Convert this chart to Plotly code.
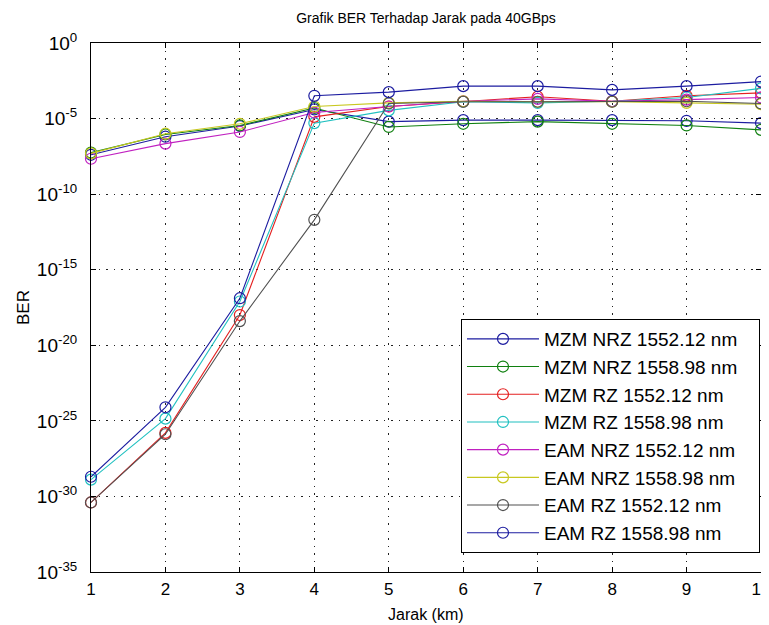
import plotly.graph_objects as go

jarak_km = [1, 2, 3, 4, 5, 6, 7, 8, 9, 10]

mzm_nrz_1552 = [4e-8, 6.3e-7, 3.2e-6, 4e-5, 6.3e-6, 7.9e-6, 7.9e-6, 7.9e-6, 7.1e-6, 5e-6]
mzm_nrz_1558 = [5.6e-8, 8.9e-7, 3.5e-6, 5e-5, 2.8e-6, 4.5e-6, 6.3e-6, 4.5e-6, 3.5e-6, 1.8e-6]
mzm_rz_1552 = [4e-31, 1.6e-26, 1e-18, 1.3e-5, 6.3e-5, 1.3e-4, 2.8e-4, 1.4e-4, 3.2e-4, 5e-4]
mzm_rz_1558 = [1.3e-29, 1.4e-25, 7.9e-18, 5e-6, 3.5e-5, 1.3e-4, 1.1e-4, 1.4e-4, 2.5e-4, 1e-3]
eam_nrz_1552 = [2.2e-8, 2.2e-7, 1.3e-6, 2.5e-5, 6.3e-5, 1.4e-4, 2e-4, 1.4e-4, 1.8e-4, 2.5e-4]
eam_nrz_1558 = [5e-8, 1e-6, 4.5e-6, 6.3e-5, 1.1e-4, 1.4e-4, 1.3e-4, 1.3e-4, 1.1e-4, 8.9e-5]
eam_rz_1552 = [4e-31, 1.3e-26, 4e-19, 2e-12, 1e-4, 1.3e-4, 1.3e-4, 1.3e-4, 1.4e-4, 1e-4]
eam_rz_1558 = [2e-29, 7.9e-25, 1.3e-17, 3.2e-4, 5.6e-4, 1.4e-3, 1.4e-3, 7.9e-4, 1.4e-3, 2.8e-3]

series_names = [
    "MZM NRZ 1552.12 nm", "MZM NRZ 1558.98 nm", "MZM RZ 1552.12 nm", "MZM RZ 1558.98 nm",
    "EAM NRZ 1552.12 nm", "EAM NRZ 1558.98 nm", "EAM RZ 1552.12 nm", "EAM RZ 1558.98 nm",
]
series_values = [mzm_nrz_1552, mzm_nrz_1558, mzm_rz_1552, mzm_rz_1558,
                 eam_nrz_1552, eam_nrz_1558, eam_rz_1552, eam_rz_1558]
series_colors = ["#1c1ca0", "#108010", "#e42020", "#20c0c0",
                 "#c020c0", "#c8c820", "#505050", "#1c1ca0"]

x_ticks = [1, 2, 3, 4, 5, 6, 7, 8, 9, 10]
y_exponents = [0, -5, -10, -15, -20, -25, -30, -35]

fig = go.Figure()
for i, (name, vals, col) in enumerate(zip(series_names, series_values, series_colors)):
    fig.add_trace(go.Scatter(
        x=jarak_km, y=vals, name=name + "\u00a0\u00a0\u00a0", mode="lines+markers",
        line=dict(color=col, width=1.1),
        marker=dict(symbol="circle-open", size=11, color=col, line=dict(width=1.2, color=col)),
        legendgroup=f"g{i}", cliponaxis=False,
    ))

# page body has an 8px margin; figure is sized/positioned to compensate
W, H = 761, 617
ML, MR, MT, MB = 83, 8, 35, 53
plot_h = H - MT - MB

font_family = "Liberation Sans, Arial, sans-serif"
grid_dash = "1.5px,6px"
fig.update_layout(
    width=W, height=H,
    paper_bgcolor="white", plot_bgcolor="white",
    margin=dict(l=ML, r=MR, t=MT, b=MB, autoexpand=False),
    font=dict(family=font_family, size=14, color="black"),
    title=dict(text="Grafik BER Terhadap Jarak pada 40GBps", x=0.5, xref="paper",
               y=1 - 5 / H, yanchor="top", font=dict(size=14)),
    xaxis=dict(
        range=[1, 10], tickvals=x_ticks, ticktext=[str(v) for v in x_ticks],
        showline=True, linecolor="black", linewidth=1, mirror="ticks",
        ticks="inside", ticklen=5, tickcolor="black",
        showgrid=True, gridcolor="#222222", griddash=grid_dash, gridwidth=1,
        zeroline=False, tickfont=dict(size=17), automargin=False,
        ticklabeloverflow="allow", ticklabelstandoff=2,
    ),
    yaxis=dict(
        type="log", range=[-35, 0],
        tickvals=[10.0 ** e for e in y_exponents],
        ticktext=[f"10<sup>{e}</sup>" for e in y_exponents],
        showline=True, linecolor="black", linewidth=1, mirror="ticks",
        ticks="inside", ticklen=5, tickcolor="black",
        showgrid=True, gridcolor="#222222", griddash=grid_dash, gridwidth=1,
        zeroline=False, tickfont=dict(size=19), automargin=False,
        ticklabelstandoff=9,
        title=dict(text="BER", font=dict(size=17), standoff=2),
    ),
    legend=dict(
        x=0.9985, xanchor="right", y=19 / plot_h, yanchor="bottom",
        bgcolor="white", bordercolor="black", borderwidth=1,
        font=dict(size=19), itemwidth=72, tracegroupgap=0,
        traceorder="normal",
    ),
    showlegend=True,
    annotations=[dict(
        text="Jarak (km)", xref="paper", yref="paper", x=0.5, y=-42 / plot_h,
        xanchor="center", yanchor="middle", showarrow=False, font=dict(size=16),
    )],
)

fig.write_html("out.html")
